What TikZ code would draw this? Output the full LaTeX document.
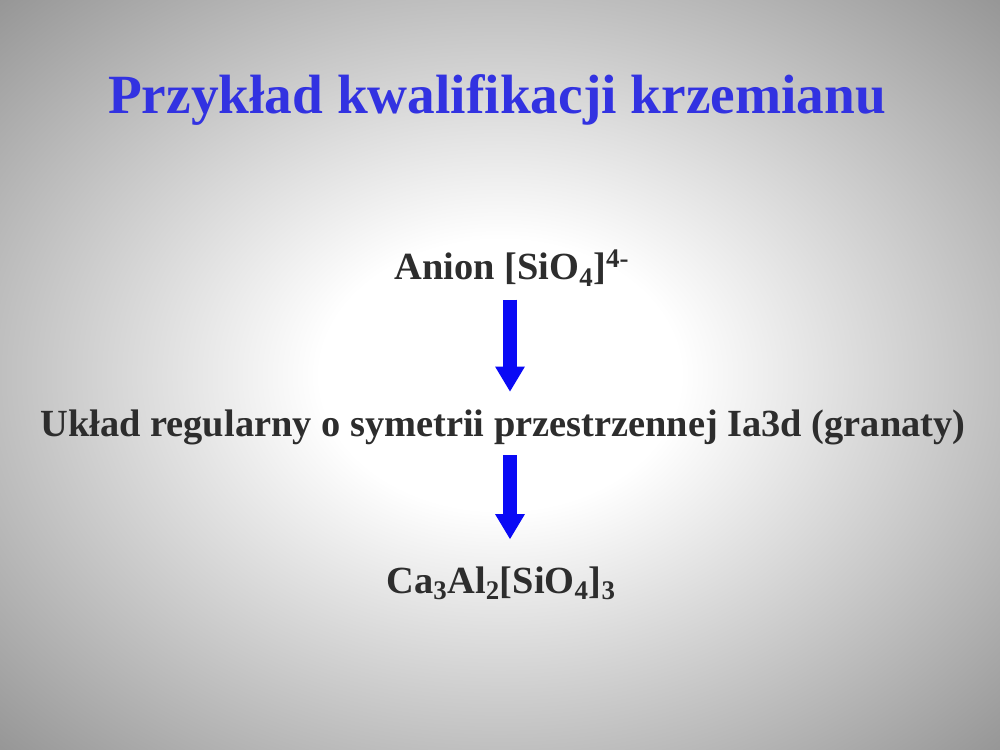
\documentclass[tikz,border=0pt]{standalone}
\usepackage{fontspec}
\setmainfont{Liberation Serif}
\usetikzlibrary{arrows.meta}
\definecolor{titleblue}{RGB}{50,50,225}
\definecolor{arrowblue}{RGB}{10,10,245}
\definecolor{textgray}{RGB}{45,45,45}
\pgfdeclareradialshading{slidebg}{\pgfpoint{0bp}{0bp}}{color(0bp)=(white); color(9bp)=(white); color(25bp)=(black!25); color(36bp)=(black!42); color(50bp)=(black!42)}
\begin{document}
\begin{tikzpicture}[x=0.75pt, y=-0.75pt,
		title/.style={font=\fontsize{41.5}{48}\selectfont\bfseries, text=titleblue},
		line/.style={font=\fontsize{28.8}{34}\selectfont\bfseries, text=textgray, inner sep=3pt},
		bigarrow/.style={draw=arrowblue, line width=11pt, -{Triangle[width=21pt, length=19pt]}}]
	\useasboundingbox (0, 0) rectangle (1000, 750);
	\shade[shading=slidebg] (0, 0) rectangle (1000, 750);

	\node[title] at (497, 100) (title) {Przykład kwalifikacji krzemianu};

	\node[line] at (512, 268) (anion) {Anion [SiO\textsubscript{4}]\textsuperscript{4-}};
	\node[line] at (503, 427) (uklad) {Układ regularny o symetrii przestrzennej Ia3d (granaty)};
	\node[line] at (501, 583) (granat) {Ca\textsubscript{3}Al\textsubscript{2}[SiO\textsubscript{4}]\textsubscript{3}};

	\draw[bigarrow, shorten <=7pt, shorten >=10pt] (510, 0 |- anion.south) -- (510, 0 |- uklad.north);
	\draw[bigarrow, shorten <=5pt, shorten >=17pt] (510, 0 |- uklad.south) -- (510, 0 |- granat.north);
\end{tikzpicture}
\end{document}
